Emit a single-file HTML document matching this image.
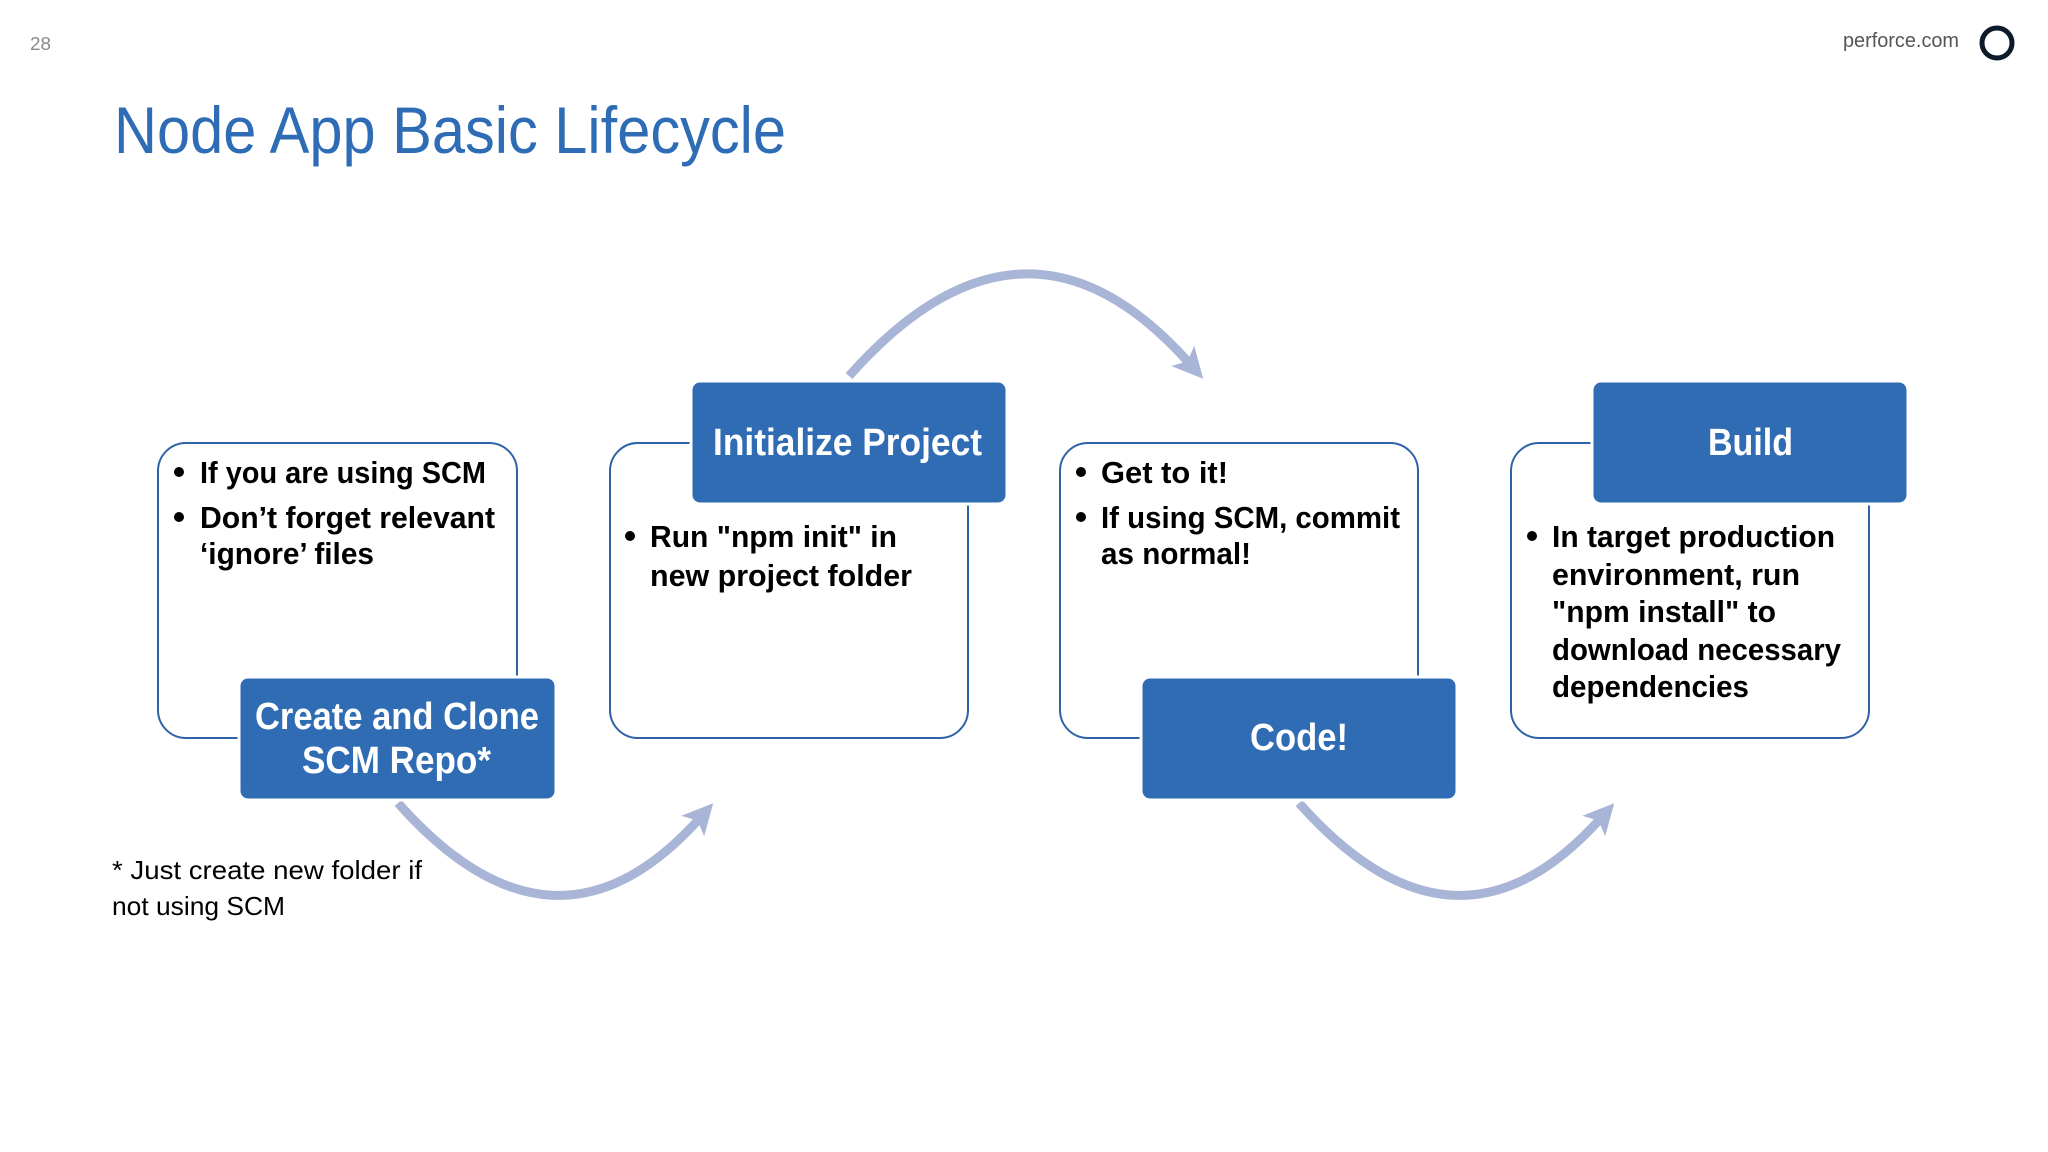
<!DOCTYPE html>
<html><head><meta charset="utf-8"><style>html,body{margin:0;padding:0;background:#fff}svg{display:block}</style></head>
<body>
<svg width="2048" height="1152" viewBox="0 0 2048 1152" xmlns="http://www.w3.org/2000/svg" font-family="Liberation Sans, sans-serif">
<defs>
<marker id="ah" markerWidth="3.4" markerHeight="3.4" refX="1.2" refY="1.7" orient="auto" markerUnits="strokeWidth">
<path d="M0,0 L3.4,1.7 L0,3.4 L0.8,1.7 Z" fill="#a9b5d6"/></marker>
</defs>
<rect width="2048" height="1152" fill="#fff"/>
<text x="30" y="50" font-size="18" fill="#8a8a8a" textLength="21" lengthAdjust="spacingAndGlyphs">28</text>
<text x="1843" y="47" font-size="20" fill="#555" textLength="116" lengthAdjust="spacingAndGlyphs">perforce.com</text>
<circle cx="1997" cy="43" r="15" fill="none" stroke="#0d1a2a" stroke-width="5"/>
<text x="114" y="153" font-size="66" fill="#2e6db5" textLength="672" lengthAdjust="spacingAndGlyphs">Node App Basic Lifecycle</text>

<g fill="none" stroke="#a9b5d6" stroke-width="9">
<path d="M849,376 Q1025,178 1190,364" marker-end="url(#ah)"/>
<path d="M398,803 Q555,980 700,818" marker-end="url(#ah)"/>
<path d="M1299,803 Q1456,980 1601,818" marker-end="url(#ah)"/>
</g>

<g fill="#fff" stroke="#2f63a8" stroke-width="2">
<rect x="158" y="443" width="359" height="295" rx="28"/>
<rect x="610" y="443" width="358" height="295" rx="28"/>
<rect x="1060" y="443" width="358" height="295" rx="28"/>
<rect x="1511" y="443" width="358" height="295" rx="28"/>
</g>
<g fill="#306cb4" stroke="#fff" stroke-width="3">
<rect x="239" y="677" width="317" height="123" rx="9"/>
<rect x="691" y="381" width="316" height="123" rx="9"/>
<rect x="1141" y="677" width="316" height="123" rx="9"/>
<rect x="1592" y="381" width="316" height="123" rx="9"/>
</g>

<g fill="#fff" font-weight="bold" font-size="38">
<text x="255" y="729" textLength="284" lengthAdjust="spacingAndGlyphs">Create and Clone</text>
<text x="302" y="773" textLength="189" lengthAdjust="spacingAndGlyphs">SCM Repo*</text>
<text x="713" y="455" textLength="269" lengthAdjust="spacingAndGlyphs">Initialize Project</text>
<text x="1250" y="750" textLength="98" lengthAdjust="spacingAndGlyphs">Code!</text>
<text x="1708" y="455" textLength="85" lengthAdjust="spacingAndGlyphs">Build</text>
</g>

<g fill="#000" font-weight="bold" font-size="31">
<circle cx="179" cy="472" r="5"/><circle cx="179" cy="517" r="5"/>
<text x="200" y="483" textLength="286" lengthAdjust="spacingAndGlyphs">If you are using SCM</text>
<text x="200" y="528" textLength="295" lengthAdjust="spacingAndGlyphs">Don’t forget relevant</text>
<text x="200" y="564" textLength="174" lengthAdjust="spacingAndGlyphs">‘ignore’ files</text>

<circle cx="630" cy="536" r="5"/>
<text x="650" y="547" textLength="247" lengthAdjust="spacingAndGlyphs">Run "npm init" in</text>
<text x="650" y="586" textLength="262" lengthAdjust="spacingAndGlyphs">new project folder</text>

<circle cx="1081" cy="472" r="5"/><circle cx="1081" cy="517" r="5"/>
<text x="1101" y="483" textLength="127" lengthAdjust="spacingAndGlyphs">Get to it!</text>
<text x="1101" y="528" textLength="299" lengthAdjust="spacingAndGlyphs">If using SCM, commit</text>
<text x="1101" y="564" textLength="150" lengthAdjust="spacingAndGlyphs">as normal!</text>

<circle cx="1532" cy="536" r="5"/>
<text x="1552" y="547" textLength="283" lengthAdjust="spacingAndGlyphs">In target production</text>
<text x="1552" y="585" textLength="248" lengthAdjust="spacingAndGlyphs">environment, run</text>
<text x="1552" y="622" textLength="224" lengthAdjust="spacingAndGlyphs">"npm install" to</text>
<text x="1552" y="660" textLength="289" lengthAdjust="spacingAndGlyphs">download necessary</text>
<text x="1552" y="697" textLength="197" lengthAdjust="spacingAndGlyphs">dependencies</text>
</g>

<g fill="#000" font-size="26">
<text x="112" y="879" textLength="310" lengthAdjust="spacingAndGlyphs">* Just create new folder if</text>
<text x="112" y="915" textLength="173" lengthAdjust="spacingAndGlyphs">not using SCM</text>
</g>
</svg>
</body></html>
